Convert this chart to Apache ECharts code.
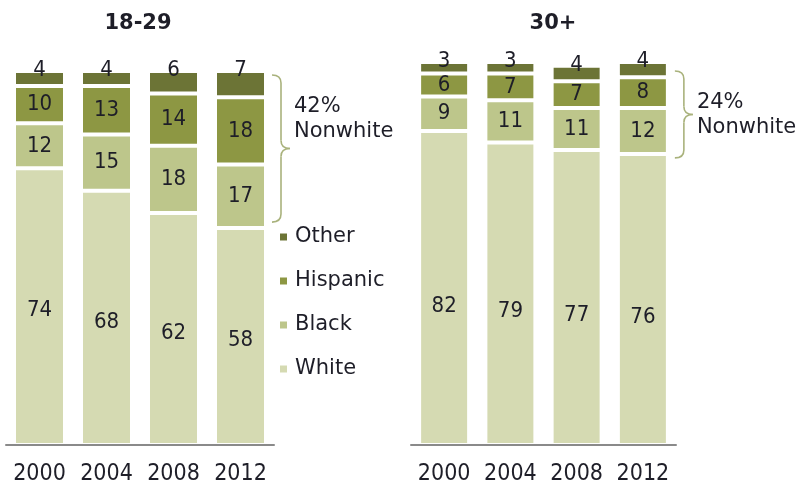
<!DOCTYPE html>
<html>
<head>
<meta charset="utf-8">
<script src="https://cdn.jsdelivr.net/npm/echarts@6/dist/echarts.min.js"></script>
<style>
  html, body { margin: 0; padding: 0; background: #fff; }
  #chart { width: 802px; height: 486px; }
</style>
</head>
<body>
<div id="chart"></div>
<script>
// Share of voters by race, two age groups, 2000-2012 (percent)
const years = ['2000', '2004', '2008', '2012'];
const groups = ['18-29', '30+'];

const white18 = [74, 68, 62, 58];
const black18 = [12, 15, 18, 17];
const hisp18  = [10, 13, 14, 18];
const other18 = [4, 4, 6, 7];

const white30 = [82, 79, 77, 76];
const black30 = [9, 11, 11, 12];
const hisp30  = [6, 7, 7, 8];
const other30 = [3, 3, 4, 4];

const raceNames = ['White', 'Black', 'Hispanic', 'Other'];
const legendOrder = ['Other', 'Hispanic', 'Black', 'White'];

const colors = {
  White: '#d5dab2',
  Black: '#bdc68b',
  Hispanic: '#8d9743',
  Other: '#6c7436'
};

const numFont = '"DejaVu Sans Condensed", "Liberation Sans", sans-serif';
const textFont = '"DejaVu Sans", Verdana, sans-serif';
const ink = '#1e1e28';

function makeSeries(gridIdx, valuesByRace, barWidth, whiteOffset) {
  return raceNames.map(function (name) {
    const label = {
      show: true,
      fontFamily: numFont,
      fontSize: 22,
      color: ink,
      formatter: '{c}'
    };
    if (name === 'Other') {
      label.position = ['50%', 0];
      label.align = 'center';
      label.verticalAlign = 'middle';
      label.offset = [0, -1];
    } else if (name === 'White') {
      label.position = 'inside';
      label.offset = [0, whiteOffset];
    } else {
      label.position = 'inside';
    }
    return {
      name: name,
      type: 'bar',
      stack: 'g' + gridIdx,
      xAxisIndex: gridIdx,
      yAxisIndex: gridIdx,
      barWidth: barWidth,
      data: valuesByRace[name],
      itemStyle: { color: colors[name], borderColor: '#ffffff', borderWidth: 2 },
      label: label,
      emphasis: { disabled: true },
      animation: false
    };
  });
}

const series = [].concat(
  makeSeries(0, { White: white18, Black: black18, Hispanic: hisp18, Other: other18 }, 51, 4),
  makeSeries(1, { White: white30, Black: black30, Hispanic: hisp30, Other: other30 }, 50, 18)
);

function catAxis(gridIdx) {
  return {
    type: 'category',
    gridIndex: gridIdx,
    data: years,
    z: 5,
    axisTick: { show: false },
    axisLine: { show: true, lineStyle: { color: '#8a8a8a', width: 2 } },
    axisLabel: { interval: 0, fontFamily: numFont, fontSize: 23, color: ink, margin: 18 }
  };
}
function valAxis(gridIdx) {
  return {
    type: 'value',
    gridIndex: gridIdx,
    min: 0,
    max: 100,
    show: false,
    splitLine: { show: false }
  };
}

const chart = echarts.init(document.getElementById('chart'), null, { renderer: 'canvas' });

chart.setOption({
  backgroundColor: '#ffffff',
  animation: false,
  title: [
    { text: groups[0], left: 133, top: 8, textAlign: 'center',
      textStyle: { fontFamily: textFont, fontWeight: 'bold', fontSize: 21, color: ink } },
    { text: groups[1], left: 548, top: 8, textAlign: 'center',
      textStyle: { fontFamily: textFont, fontWeight: 'bold', fontSize: 21, color: ink } }
  ],
  grid: [
    { left: 6, width: 268, top: 71, bottom: 41 },
    { left: 411, width: 265, top: 62, bottom: 41 }
  ],
  xAxis: [catAxis(0), catAxis(1)],
  yAxis: [valAxis(0), valAxis(1)],
  legend: {
    data: legendOrder,
    orient: 'vertical',
    left: 278,
    top: 226,
    padding: 0,
    itemWidth: 9,
    itemHeight: 9,
    itemGap: 22,
    icon: 'rect',
    selectedMode: false,
    textStyle: { fontFamily: textFont, fontSize: 21, lineHeight: 22, color: ink, padding: [0, 0, 0, 2] }
  },
  series: series
});

// Curly braces marking the nonwhite share of the 2012 bars,
// built from quadratic curves and straight strokes
const braceStyle = { stroke: '#a9b27c', lineWidth: 1.6, fill: null };

function quad(x1, y1, cx, cy, x2, y2) {
  return {
    type: 'bezierCurve',
    shape: { x1: x1, y1: y1, cpx1: cx, cpy1: cy, x2: x2, y2: y2 },
    style: braceStyle,
    silent: true
  };
}
function seg(x1, y1, x2, y2) {
  return {
    type: 'line',
    shape: { x1: x1, y1: y1, x2: x2, y2: y2 },
    style: braceStyle,
    silent: true
  };
}

function braceGroup(gridIdx, whiteVals, barWidth, dx, topAdj, botAdj, textDy) {
  const last = years.length - 1;
  const pTop = chart.convertToPixel({ gridIndex: gridIdx }, [last, 100]);
  const pBot = chart.convertToPixel({ gridIndex: gridIdx }, [last, whiteVals[last]]);
  const right = pTop[0] + barWidth / 2;
  const x0 = right + dx;
  const xm = x0 + 9;
  const xt = x0 + 18;
  const top = pTop[1] + topAdj;
  const bot = pBot[1] + botAdj;
  const mid = (top + bot) / 2;
  const r = 8;
  const share = 100 - whiteVals[last];
  return [
    quad(x0, top, xm, top, xm, top + r),
    seg(xm, top + r, xm, mid - r),
    quad(xm, mid - r, xm, mid, xt, mid),
    quad(xt, mid, xm, mid, xm, mid + r),
    seg(xm, mid + r, xm, bot - r),
    quad(xm, bot - r, xm, bot, x0, bot),
    {
      type: 'text',
      x: xt + 4,
      y: mid + textDy,
      style: {
        text: share + '%\nNonwhite',
        font: '21px ' + textFont,
        lineHeight: 25,
        fill: ink,
        verticalAlign: 'middle'
      },
      silent: true
    }
  ];
}

chart.setOption({
  graphic: [].concat(
    braceGroup(0, white18, 51, 6, 4, -6, -29),
    braceGroup(1, white30, 50, 7, 9, 4, 1)
  )
});
</script>
</body>
</html>
